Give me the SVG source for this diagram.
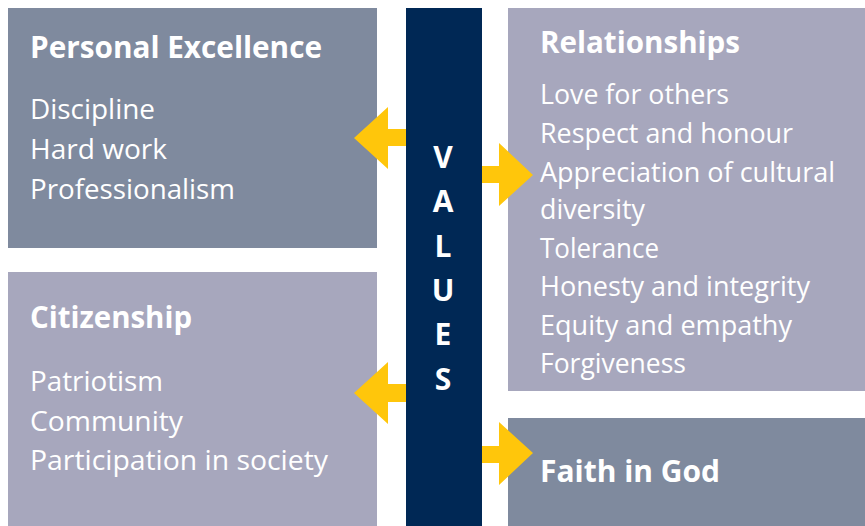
<svg xmlns="http://www.w3.org/2000/svg" width="865" height="526" viewBox="0 0 865 526">
  <style>
    .dark { fill: #7f8a9e; }
    .light { fill: #a7a7bd; }
    .bar { fill: #002855; }
    .arrow { fill: #ffc60b; }
    text { fill: #ffffff; font-family: "Open Sans", "Noto Sans", "Liberation Sans", sans-serif; }
    .head { font-size: 30px; font-weight: 700; }
    .item { font-size: 27px; font-weight: 400; }
    .letter { font-size: 30px; font-weight: 700; text-anchor: middle; }
  </style>

  <!-- central VALUES bar -->
  <g id="values">
    <rect class="bar" x="406" y="8" width="76" height="518"/>
    <text class="letter" x="443" y="168">V</text>
    <text class="letter" x="443" y="212">A</text>
    <text class="letter" x="443" y="257">L</text>
    <text class="letter" x="443" y="301">U</text>
    <text class="letter" x="443" y="345">E</text>
    <text class="letter" x="443" y="390">S</text>
  </g>

  <g id="personal-excellence">
    <rect class="dark" x="8" y="8" width="369" height="240"/>
    <text class="head" x="30" y="58" textLength="292" lengthAdjust="spacingAndGlyphs">Personal Excellence</text>
    <text class="item" x="30" y="119" textLength="125" lengthAdjust="spacingAndGlyphs">Discipline</text>
    <text class="item" x="30" y="159" textLength="137" lengthAdjust="spacingAndGlyphs">Hard work</text>
    <text class="item" x="30" y="199" textLength="205" lengthAdjust="spacingAndGlyphs">Professionalism</text>
  </g>

  <g id="citizenship">
    <rect class="light" x="8" y="272" width="369" height="254"/>
    <text class="head" x="30" y="328" textLength="162" lengthAdjust="spacingAndGlyphs">Citizenship</text>
    <text class="item" x="30" y="391" textLength="133" lengthAdjust="spacingAndGlyphs">Patriotism</text>
    <text class="item" x="30" y="431" textLength="153" lengthAdjust="spacingAndGlyphs">Community</text>
    <text class="item" x="30" y="470" textLength="298" lengthAdjust="spacingAndGlyphs">Participation in society</text>
  </g>

  <g id="relationships">
    <rect class="light" x="508" y="8" width="357" height="383"/>
    <text class="head" x="540" y="53" textLength="200" lengthAdjust="spacingAndGlyphs">Relationships</text>
    <text class="item" x="540" y="104" textLength="189" lengthAdjust="spacingAndGlyphs">Love for others</text>
    <text class="item" x="540" y="143" textLength="253" lengthAdjust="spacingAndGlyphs">Respect and honour</text>
    <text class="item" x="540" y="182" textLength="295" lengthAdjust="spacingAndGlyphs">Appreciation of cultural</text>
    <text class="item" x="540" y="219" textLength="105" lengthAdjust="spacingAndGlyphs">diversity</text>
    <text class="item" x="540" y="258" textLength="119" lengthAdjust="spacingAndGlyphs">Tolerance</text>
    <text class="item" x="540" y="296" textLength="270" lengthAdjust="spacingAndGlyphs">Honesty and integrity</text>
    <text class="item" x="540" y="335" textLength="252" lengthAdjust="spacingAndGlyphs">Equity and empathy</text>
    <text class="item" x="540" y="373" textLength="146" lengthAdjust="spacingAndGlyphs">Forgiveness</text>
  </g>

  <g id="faith-in-god">
    <rect class="dark" x="508" y="418" width="357" height="108"/>
    <text class="head" x="540" y="482" textLength="180" lengthAdjust="spacingAndGlyphs">Faith in God</text>
  </g>

  <!-- block arrows from the bar to each group -->
  <g id="connectors">
    <polygon class="arrow" points="406,129 388,129 388,107 354,138 388,169 388,146 406,146"/>
    <polygon class="arrow" points="482,166 499,166 499,143 533,175 499,206 499,183 482,183"/>
    <polygon class="arrow" points="406,384 388,384 388,362 354,393 388,424 388,402 406,402"/>
    <polygon class="arrow" points="482,446 499,446 499,422 533,453 499,485 499,463 482,463"/>
  </g>
</svg>
